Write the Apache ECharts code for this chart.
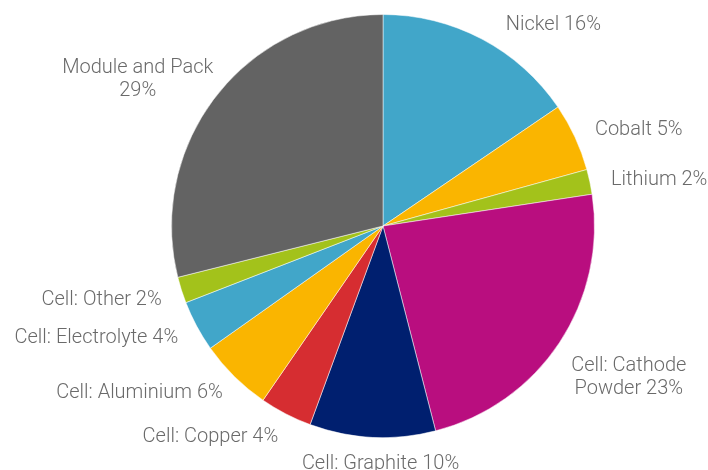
<!DOCTYPE html>
<html>
<head>
<meta charset="utf-8">
<script src="https://cdn.jsdelivr.net/npm/echarts@6/dist/echarts.min.js"></script>
<style>
html, body { margin: 0; padding: 0; background: #fff; }
#main { width: 708px; height: 470px; }
</style>
</head>
<body>
<div id="main"></div>
<script>
// slices, clockwise from 12 o'clock
var names = ['Nickel', 'Cobalt', 'Lithium', 'Cell: Cathode\nPowder', 'Cell: Graphite', 'Cell: Copper',
             'Cell: Aluminium', 'Cell: Electrolyte', 'Cell: Other', 'Module and Pack\n'];
var values = [15.5, 5.2, 1.9, 23.4, 9.6, 4.0, 5.6, 3.9, 2.0, 28.9];
var pctLabels = [16, 5, 2, 23, 10, 4, 6, 4, 2, 29];
var colors = ['#41a6c9', '#fab500', '#a3c21b', '#b90e7f', '#001f6f', '#d62d31',
              '#fab500', '#41a6c9', '#a3c21b', '#636363'];

var cx = 383, cy = 226, r = 211.5;
var labelRadius = 228;
// small hand nudges so labels sit where the original put them
var labelDx = [16, 5, 5, -2, 9, 0, 0, -4, -4, 10];
var labelDy = [0, 0, 2, 3, -1, -3, -7, 4, 5, -6];

var total = values.reduce(function (a, b) { return a + b; }, 0);

// label placed just outside the slice middle, excel style
function placeLabel(params) {
    var i = params.dataIndex;
    var before = 0;
    for (var k = 0; k < i; k++) before += values[k];
    var a = (before + values[i] / 2) / total * 2 * Math.PI;
    var s = Math.sin(a), c = Math.cos(a);
    var ax = cx + labelRadius * s;
    var ay = cy - labelRadius * c;
    var w = params.labelRect.width, h = params.labelRect.height;
    var hs = s > 0.3 ? 1 : (s < -0.3 ? -1 : 0);
    var vs = c < -0.5 ? 1 : 0;
    return {
        x: ax + hs * w / 2 + labelDx[i],
        y: ay + vs * h / 2 + labelDy[i],
        align: 'center',
        verticalAlign: 'middle'
    };
}

var chart = echarts.init(document.getElementById('main'));
chart.setOption({
    animation: false,
    color: colors,
    series: [{
        type: 'pie',
        center: [cx, cy],
        radius: r,
        startAngle: 90,
        clockwise: true,
        avoidLabelOverlap: false,
        itemStyle: { borderColor: '#ffffff', borderWidth: 0.5 },
        label: {
            show: true,
            position: 'outside',
            fontFamily: 'Roboto',
            fontSize: 20,
            fontWeight: 300,
            color: '#6a6a6a',
            lineHeight: 23,
            align: 'center',
            formatter: function (p) {
                var n = names[p.dataIndex];
                var sep = n.charAt(n.length - 1) === '\n' ? '' : ' ';
                return n + sep + pctLabels[p.dataIndex] + '%';
            }
        },
        labelLine: { show: false },
        labelLayout: placeLabel,
        data: names.map(function (n, i) {
            return { name: n, value: values[i] };
        })
    }]
});
</script>
</body>
</html>
